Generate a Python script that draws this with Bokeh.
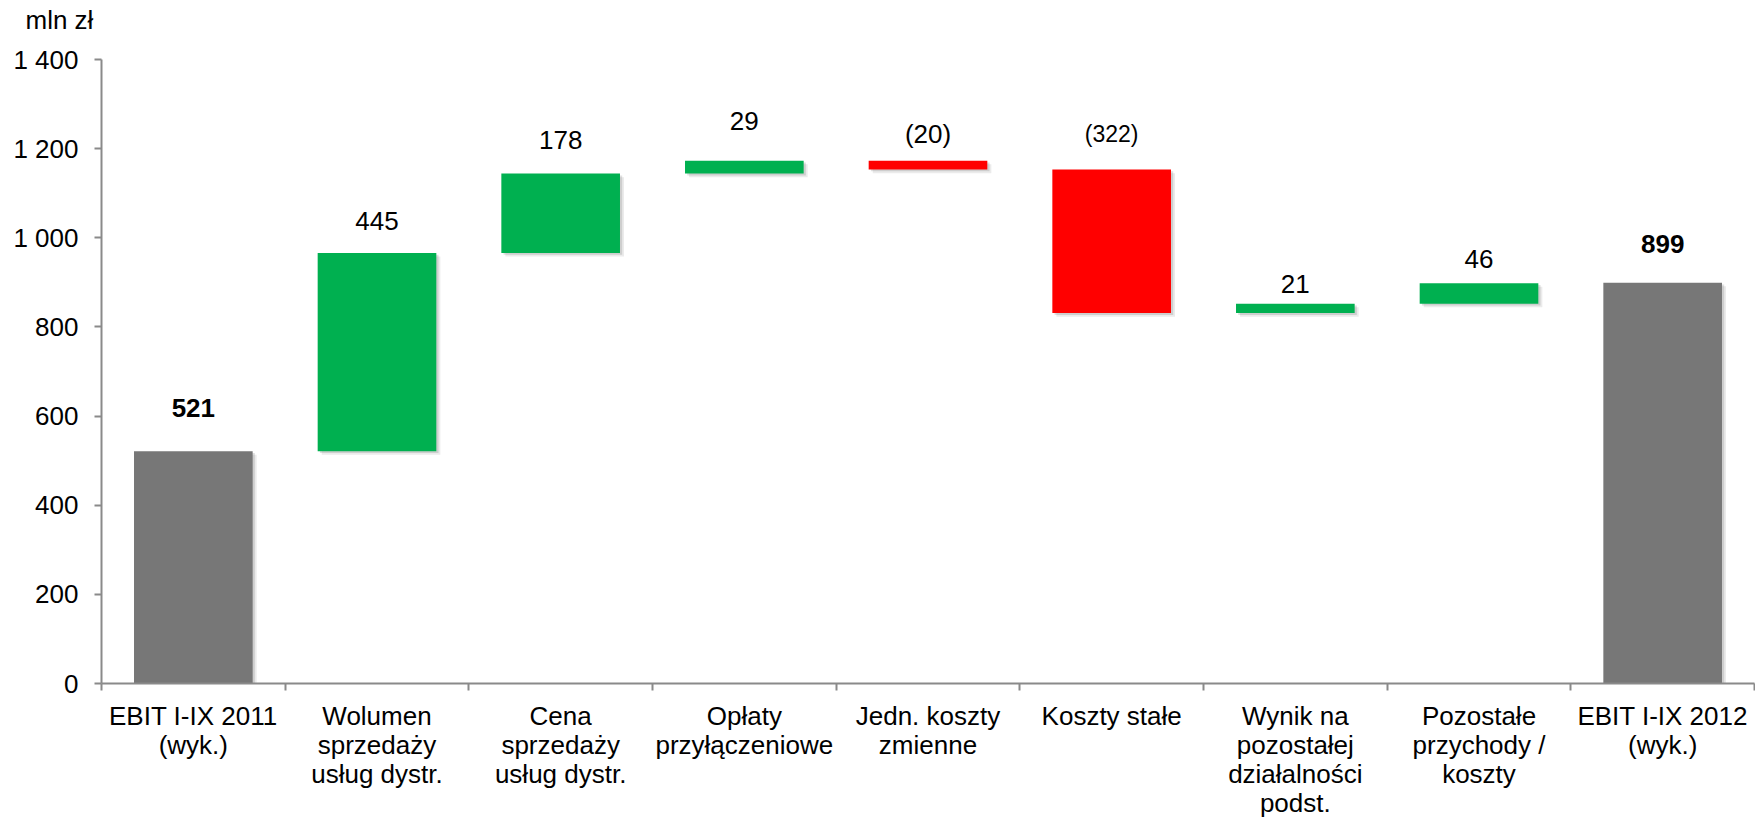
from bokeh.plotting import figure
from bokeh.models import Range1d, FixedTicker, ColumnDataSource
from bokeh.core.properties import value
from bokeh.embed import file_html
from bokeh.resources import INLINE

# ---- data ----
categories = [
    "EBIT I-IX 2011\n(wyk.)",
    "Wolumen\nsprzedaży\nusług dystr.",
    "Cena\nsprzedaży\nusług dystr.",
    "Opłaty\nprzyłączeniowe",
    "Jedn. koszty\nzmienne",
    "Koszty stałe",
    "Wynik na\npozostałej\ndziałalności\npodst.",
    "Pozostałe\nprzychody /\nkoszty",
    "EBIT I-IX 2012\n(wyk.)",
]
steps = [521, 445, 178, 29, -20, -322, 21, 46, 899]
is_total = [True, False, False, False, False, False, False, False, True]
value_labels = ["521", "445", "178", "29", "(20)", "(322)", "21", "46", "899"]
label_bold = [True, False, False, False, False, False, False, False, True]
y_ticks = [0, 200, 400, 600, 800, 1000, 1200, 1400]
y_tick_labels = ["0", "200", "400", "600", "800", "1 000", "1 200", "1 400"]
unit_label = "mln zł"

# ---- styles ----
label_sizes = ["26px", "26px", "26px", "26px", "26px", "23px", "26px", "26px", "26px"]
label_lift_px = [43, 32, 34, 40, 27, 36, 20, 24, 39]
GRAY, GREEN, RED = "#777777", "#00B050", "#FF0000"
FONT = "Liberation Sans"
AXIS_COLOR = "#8a8a8a"

n = len(categories)
centers = [i + 0.5 for i in range(n)]
bottoms, tops, colors = [], [], []
running = 0
for s, tot in zip(steps, is_total):
    if tot:
        b, t, c = 0, s, GRAY
        running = s
    else:
        start = running
        running += s
        b, t = min(start, running), max(start, running)
        c = GREEN if s > 0 else RED
    bottoms.append(b)
    tops.append(t)
    colors.append(c)

src = ColumnDataSource(dict(x=centers, bottom=bottoms, top=tops, color=colors))
shadow1 = ColumnDataSource(dict(x=[c + 0.022 for c in centers],
                                bottom=[b - 8 for b in bottoms],
                                top=[t - 8 for t in tops]))
shadow2 = ColumnDataSource(dict(x=[c + 0.012 for c in centers],
                                bottom=[b - 4 for b in bottoms],
                                top=[t - 4 for t in tops]))
lab = ColumnDataSource(dict(
    x=centers, y=tops, text=value_labels,
    size=label_sizes,
    style=["bold" if bb else "normal" for bb in label_bold],
    yoff=[-v for v in label_lift_px],
))

p = figure(width=1755, height=820, output_backend="svg", toolbar_location=None,
           x_range=Range1d(0, n), y_range=Range1d(0, 1400),
           min_border_left=101, min_border_right=1, min_border_top=59, min_border_bottom=137,
           background_fill_color="white", border_fill_color="white")
p.outline_line_color = None
p.xgrid.visible = False
p.ygrid.visible = False

BAR_W = 0.646
p.vbar(x="x", bottom="bottom", top="top", width=BAR_W, source=shadow1,
       fill_color="#000000", fill_alpha=0.08, line_color=None)
p.vbar(x="x", bottom="bottom", top="top", width=BAR_W, source=shadow2,
       fill_color="#000000", fill_alpha=0.12, line_color=None)
p.vbar(x="x", bottom="bottom", top="top", width=BAR_W, source=src,
       fill_color="color", line_color=None)

p.text(x="x", y="y", text="text", source=lab, y_offset="yoff",
       text_align="center", text_baseline="middle",
       text_font=value(FONT), text_font_size="size", text_font_style="style",
       text_color="black")

# y axis
ya = p.yaxis[0]
ya.ticker = FixedTicker(ticks=y_ticks)
ya.major_label_overrides = {t: l for t, l in zip(y_ticks, y_tick_labels)}
ya.axis_line_color = AXIS_COLOR
ya.axis_line_width = 2
ya.major_tick_line_color = AXIS_COLOR
ya.major_tick_line_width = 2
ya.major_tick_out = 7
ya.major_tick_in = 0
ya.minor_tick_line_color = None
ya.major_label_standoff = 16
ya.major_label_text_font = FONT
ya.major_label_text_font_size = "26px"
ya.major_label_text_color = "black"

# x axis: labels at centers, tick marks at category boundaries
xa = p.xaxis[0]
xa.ticker = FixedTicker(ticks=centers, minor_ticks=list(range(n + 1)))
xa.major_label_overrides = {c: lbl for c, lbl in zip(centers, categories)}
xa.axis_line_color = AXIS_COLOR
xa.axis_line_width = 2
xa.major_tick_line_color = None
xa.major_tick_out = 0
xa.major_tick_in = 0
xa.minor_tick_line_color = AXIS_COLOR
xa.minor_tick_line_width = 2
xa.minor_tick_out = 7
xa.minor_tick_in = 0
xa.major_label_standoff = 10
xa.major_label_text_font = FONT
xa.major_label_text_font_size = "26px"
xa.major_label_text_line_height = 0.97
xa.major_label_text_color = "black"

# unit caption; trailing empty line lifts it towards the top edge
p.title.text = unit_label + "\n"
p.title.align = "left"
p.title.vertical_align = "bottom"
p.title.offset = -76
p.title.standoff = 4
p.title.text_line_height = 0.75
p.title.text_font = FONT
p.title.text_font_size = "26px"
p.title.text_font_style = "normal"
p.title.text_color = "black"

open("out.html", "w").write(file_html(p, INLINE))
